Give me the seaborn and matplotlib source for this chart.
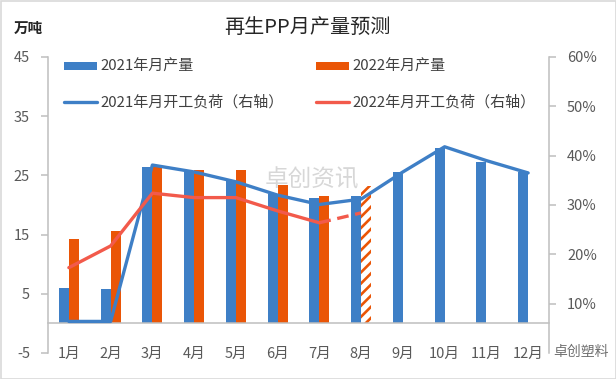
import numpy as np
import pandas as pd
import matplotlib
matplotlib.use('Agg')
import matplotlib.pyplot as plt
import seaborn as sns
from matplotlib.patches import Patch, Rectangle
from matplotlib.lines import Line2D
from matplotlib.ticker import FuncFormatter

# ---------------- data ----------------
months = ['1月', '2月', '3月', '4月', '5月', '6月', '7月', '8月', '9月', '10月', '11月', '12月']
prod_2021 = [6.0, 5.8, 26.5, 25.8, 24.1, 21.8, 21.1, 21.5, 25.6, 29.7, 27.2, 25.6]
prod_2022 = [14.3, 15.6, 26.7, 25.9, 25.9, 23.4, 21.5, 23.2]          # Aug = forecast
load_2021 = [6.4, 6.4, 38.1, 36.7, 34.7, 32.0, 30.1, 31.2, 36.7, 41.8, 39.0, 36.5]   # %
load_2022 = [17.3, 21.7, 32.4, 31.5, 31.5, 28.8, 26.4, 28.4]          # %, Jul->Aug dashed
series_names = ['2021年月产量', '2022年月产量', '2021年月开工负荷（右轴）', '2022年月开工负荷（右轴）']
title = '再生PP月产量预测'
unit = '万吨'

BLUE = '#3E7FC6'
ORANGE = '#EA5506'
RED = '#F25A4B'
GRAY = '#BFBFBF'
TXT = '#595959'

sns.set_theme(style='white')
plt.rcParams['font.family'] = ['Noto Sans CJK SC', 'DejaVu Sans']
plt.rcParams['hatch.linewidth'] = 1.9
plt.rcParams['axes.unicode_minus'] = False

fig = plt.figure(figsize=(6.16, 3.79), dpi=100)
W, H = 616, 379
ax = fig.add_axes([48 / W, 26 / H, 501 / W, 296 / H])

# ---------------- bars ----------------
bars = pd.DataFrame({
    'month': months * 2,
    'year': ['2021'] * 12 + ['2022'] * 12,
    'value': prod_2021 + prod_2022 + [np.nan] * (12 - len(prod_2022)),
}).dropna()
sns.barplot(data=bars, x='month', y='value', hue='year', order=months,
            hue_order=['2021', '2022'], palette=[BLUE, ORANGE], width=0.48,
            dodge=True, saturation=1, errorbar=None, legend=False,
            linewidth=0, ax=ax)

# forecast bar (Aug 2022) hatched
for p in ax.patches:
    if p.get_x() > 6.5 and p.get_x() < 7.5 and abs(p.get_height() - prod_2022[7]) < 1e-6:
        p.set_facecolor('white')
        p.set_edgecolor(ORANGE)
        p.set_hatch('///')
        p.set_linewidth(0)

# ---------------- lines (right axis) ----------------
ax2 = ax.twinx()
ax2.set_position(ax.get_position())
x = np.arange(12)
d21 = pd.DataFrame({'x': x, 'load': np.array(load_2021) / 100})
d22 = pd.DataFrame({'x': x[:len(load_2022)], 'load': np.array(load_2022) / 100})
sns.lineplot(data=d21, x='x', y='load', color=BLUE, linewidth=2.4, ax=ax2)
sns.lineplot(data=d22.iloc[:7], x='x', y='load', color=RED, linewidth=2.4, ax=ax2)
sns.lineplot(data=d22.iloc[6:8], x='x', y='load', color=RED, linewidth=2.4,
             linestyle=(0, (3.5, 2)), ax=ax2)

# ---------------- axes styling ----------------
ax.set_xlim(-0.5, 11.5)
ax.set_ylim(-5, 45)
ax.set_yticks([-5, 5, 15, 25, 35, 45])
ax.set_xlabel('')
ax.set_ylabel('')
ax.spines['bottom'].set_position(('data', 0))
for s in ['top', 'right']:
    ax.spines[s].set_visible(False)
for s in ['left', 'bottom']:
    ax.spines[s].set_color(GRAY)
    ax.spines[s].set_linewidth(1.1)
ax.set_xticks(np.arange(0.5, 11, 1.0))
ax.set_xticks(np.arange(12), minor=True)
ax.set_xticklabels(months, minor=True)
ax.tick_params(axis='x', which='major', length=5, width=1.1, direction='out',
               color=GRAY, labelbottom=False)
ax.tick_params(axis='x', which='minor', length=0, pad=17, labelsize=10.5, labelcolor=TXT)
ax.tick_params(axis='y', length=5, width=1.1, direction='out', color=GRAY,
               labelsize=10.5, labelcolor=TXT, pad=8, left=True)

ax2.set_ylim(0, 0.6)
ax2.set_yticks([0.1, 0.2, 0.3, 0.4, 0.5, 0.6])
ax2.yaxis.set_major_formatter(FuncFormatter(lambda v, _: f'{v * 100:.0f}%'))
ax2.set_xlabel('')
ax2.set_ylabel('')
for s in ['top', 'left', 'bottom']:
    ax2.spines[s].set_visible(False)
ax2.spines['right'].set_color(GRAY)
ax2.spines['right'].set_linewidth(1.1)
ax2.tick_params(axis='y', length=5, width=1.1, direction='out', color=GRAY,
                labelsize=10.5, labelcolor=TXT, pad=8, right=True)
ax.set_xlim(-0.5, 11.5)

# ---------------- legend ----------------
handles = [
    Patch(facecolor=BLUE, edgecolor='none', label=series_names[0]),
    Line2D([0], [0], color=BLUE, lw=2.4, label=series_names[2]),
    Patch(facecolor=ORANGE, edgecolor='none', label=series_names[1]),
    Line2D([0], [0], color=RED, lw=2.4, label=series_names[3]),
]
ax2.legend(handles=handles, ncol=2, loc='upper left',
           bbox_to_anchor=(64 / W, 1 - 60 / H), bbox_transform=fig.transFigure,
           frameon=False, fontsize=10.8, labelspacing=1.4, columnspacing=2.1,
           handlelength=2.2, handleheight=0.5, handletextpad=0.25,
           borderpad=0, borderaxespad=0, labelcolor='#404040')

# ---------------- texts ----------------
fig.text(307 / W, 1 - 27 / H, title, ha='center', va='center', fontsize=14.5, color='#262626')
fig.text(28 / W, 1 - 28 / H, unit, ha='center', va='center', fontsize=10.5,
         fontweight='bold', color='#262626')
fig.text(312 / W, 1 - 180 / H, '卓创资讯', ha='center', va='center', fontsize=17,
         color='#a8a8a8', alpha=0.45)
fig.text(553 / W, 1 - 352 / H, '卓创塑料', ha='left', va='center', fontsize=10,
         color='#6f6f6f')

fig.add_artist(Rectangle((0.5 / W, 0.5 / H), 1 - 1 / W, 1 - 1 / H, transform=fig.transFigure,
                         fill=False, edgecolor='#D9D9D9', linewidth=1.2))

fig.savefig('out.png', dpi=100)
